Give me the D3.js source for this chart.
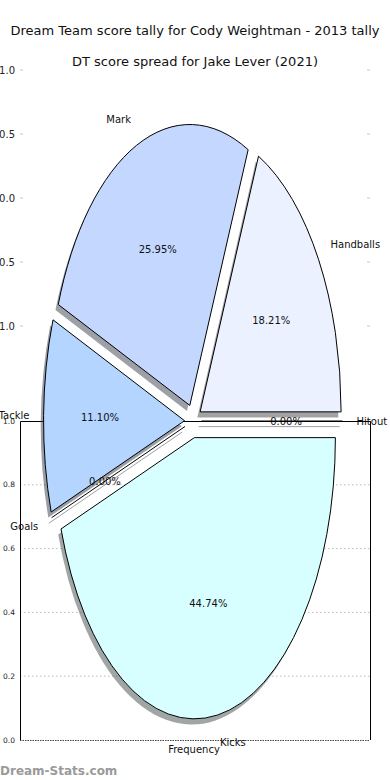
<!DOCTYPE html>
<html><head><meta charset="utf-8">
<script src="https://cdn.jsdelivr.net/npm/d3@7"></script>
<style>
html,body{margin:0;padding:0;background:#fff;}
svg{display:block;font-family:"DejaVu Sans",sans-serif;}
</style></head>
<body>
<svg id="c" width="390" height="780"></svg>
<script>
// ---- data ----
const categories = ["Handballs", "Mark", "Tackle", "Goals", "Kicks", "Hitout"];
const shares = [18.21, 25.95, 11.10, 0.00, 44.74, 0.00];
const colors = ["#ebf1ff", "#c4d8ff", "#b4d5ff", "#cfe6ff", "#d8ffff", "#e0e8ff"];
const pieTicks = [1.0, 0.5, 0.0, -0.5, -1.0];
const freqTicks = [0.0, 0.2, 0.4, 0.6, 0.8, 1.0];
const titles = ["Dream Team score tally for Cody Weightman - 2013 tally", "DT score spread for Jake Lever (2021)"];

const svg = d3.select("#c");
const fmt = d3.format(".1f");

// titles
svg.append("text").attr("x", 195).attr("y", 35).attr("text-anchor", "middle")
  .attr("font-size", 13).attr("fill", "#111").text(titles[0]);
svg.append("text").attr("x", 195).attr("y", 66).attr("text-anchor", "middle")
  .attr("font-size", 13).attr("fill", "#111").text(titles[1]);

// background axes (pie axes) ticks
const yPie = d3.scaleLinear().domain([-1, 1]).range([326, 70]);
pieTicks.forEach(t => {
  svg.append("line").attr("x1", 20).attr("x2", 23).attr("y1", yPie(t)).attr("y2", yPie(t))
    .attr("stroke", "#c8c8c8").attr("stroke-width", 1);
  svg.append("line").attr("x1", 367).attr("x2", 370).attr("y1", yPie(t)).attr("y2", yPie(t))
    .attr("stroke", "#c8c8c8").attr("stroke-width", 1);
  svg.append("text").attr("x", 15).attr("y", yPie(t)).attr("dy", "0.35em")
    .attr("text-anchor", "end").attr("font-size", 10).attr("fill", "#222")
    .text(t < 0 ? "\u2212" + fmt(-t) : fmt(t));
});

// second axes (frequency)
const ax = {l: 20, r: 370, t: 421, b: 740};
const yF = d3.scaleLinear().domain([0, 1]).range([ax.b, ax.t]);
const g2 = svg.append("g");
freqTicks.forEach(t => {
  if (t > 0 && t < 1) {
    g2.append("line").attr("x1", ax.l).attr("x2", ax.r).attr("y1", yF(t)).attr("y2", yF(t))
      .attr("stroke", "#bbb").attr("stroke-dasharray", "1.5,2.5").attr("stroke-width", 1);
  }
  g2.append("text").attr("x", 15).attr("y", yF(t)).attr("dy", "0.35em")
    .attr("text-anchor", "end").attr("font-size", 7.5).attr("fill", "#222").text(fmt(t));
});
g2.append("line").attr("x1", ax.l).attr("x2", ax.r).attr("y1", ax.b + 0.5).attr("y2", ax.b + 0.5)
  .attr("stroke", "#444").attr("stroke-dasharray", "1.5,1").attr("stroke-width", 1);
g2.append("path").attr("d", `M${ax.l + 0.5},${ax.b}V${ax.t + 0.5}H${ax.r + 0.5}V${ax.b}`)
  .attr("fill", "none").attr("stroke", "#000").attr("stroke-width", 1);
svg.append("text").attr("x", 194).attr("y", 749).attr("dy", "0.35em").attr("text-anchor", "middle")
  .attr("font-size", 10).attr("fill", "#111").text("Frequency");

// pie (elliptical)
const cx = 193, cy = 421, rx = 141, ry = 281, explode = 0.06;
const pie = d3.pie().sort(null).value(d => d).startAngle(Math.PI / 2).endAngle(Math.PI / 2 - 2 * Math.PI);
const arcs = pie(shares);
const unitArc = d3.arc().innerRadius(0).outerRadius(1);
const sx = d3.scaleLinear().domain([-1, 1]).range([-rx, rx]);
const sy = d3.scaleLinear().domain([-1, 1]).range([-ry, ry]);

function pt(a, r) { return [Math.sin(a) * r, -Math.cos(a) * r]; }

const pg = svg.append("g").attr("transform", `translate(${cx},${cy})`);
const items = arcs.map((a, i) => {
  const mid = (a.startAngle + a.endAngle) / 2;
  const off = pt(mid, explode);
  return {a, i, mid, off};
});

function wedgePath(d) {
  if (Math.abs(d.a.endAngle - d.a.startAngle) < 1e-9) {
    const e = pt(d.a.startAngle, 1);
    return `M0,0L${e[0]},${e[1]}`;
  }
  return unitArc(d.a);
}

// shadows
items.forEach(d => {
  const c = d3.rgb(colors[d.i]);
  const sc = d3.rgb(c.r * 0.3, c.g * 0.3, c.b * 0.3);
  pg.append("path")
    .attr("d", wedgePath(d))
    .attr("transform", `translate(${sx(d.off[0]) - 2.8},${sy(d.off[1]) + 5.6}) scale(${rx},${ry})`)
    .attr("fill", d.a.value > 0 ? sc : "none")
    .attr("stroke", sc).attr("stroke-opacity", d.a.value > 0 ? 0 : 1)
    .attr("vector-effect", "non-scaling-stroke")
    .attr("fill-opacity", 0.5).attr("stroke-width", 1).attr("opacity", d.a.value > 0 ? 1 : 0.5);
});
// wedges
items.forEach(d => {
  pg.append("path")
    .attr("d", wedgePath(d))
    .attr("transform", `translate(${sx(d.off[0])},${sy(d.off[1])}) scale(${rx},${ry})`)
    .attr("fill", d.a.value > 0 ? colors[d.i] : "none")
    .attr("stroke", "#000").attr("stroke-width", 1)
    .attr("vector-effect", "non-scaling-stroke");
});
// labels
items.forEach(d => {
  const lp = pt(d.mid, 1.1), pp = pt(d.mid, 0.6);
  const x = sx(d.off[0] + lp[0]), y = sy(d.off[1] + lp[1]);
  pg.append("text").attr("x", x).attr("y", y).attr("dy", "0.35em")
    .attr("text-anchor", lp[0] > 0 ? "start" : "end")
    .attr("font-size", 10).attr("fill", "#111").text(categories[d.i]);
  pg.append("text").attr("x", sx(d.off[0] + pp[0])).attr("y", sy(d.off[1] + pp[1])).attr("dy", "0.35em")
    .attr("text-anchor", "middle").attr("font-size", 10).attr("fill", "#111")
    .text(d3.format(".2f")(shares[d.i]) + "%");
});

// top spine over hitout region
svg.append("line").attr("x1", 186).attr("x2", ax.r + 0.5).attr("y1", ax.t + 0.5).attr("y2", ax.t + 0.5)
  .attr("stroke", "#000").attr("stroke-width", 1);

// watermark
svg.append("text").attr("x", 0).attr("y", 775).attr("font-size", 12).attr("font-weight", "bold")
  .attr("fill", "#9a9a9a").text("Dream-Stats.com");
</script>
</body></html>
